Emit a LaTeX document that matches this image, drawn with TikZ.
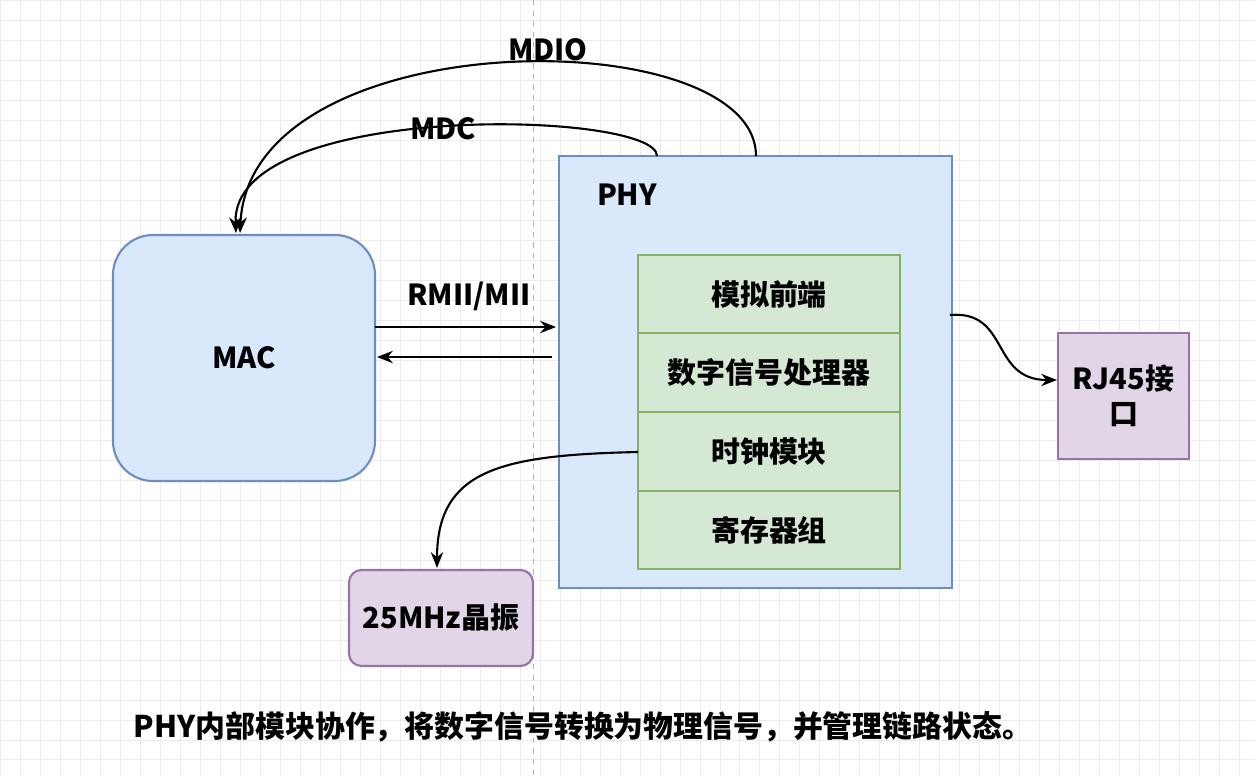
\documentclass[tikz,border=0pt]{standalone}
\usepackage{fontspec}
\setmainfont{Liberation Sans}
\newfontfamily\cjk{Noto Sans CJK SC}
\usetikzlibrary{arrows.meta}
\definecolor{bluefill}{HTML}{DAE8FC}
\definecolor{blueline}{HTML}{6C8EBF}
\definecolor{greenfill}{HTML}{D5E8D4}
\definecolor{greenline}{HTML}{82B366}
\definecolor{purplefill}{HTML}{E1D5E7}
\definecolor{purpleline}{HTML}{9673A6}
\tikzset{
  blk/.style={draw=blueline,fill=bluefill,line width=1.2pt},
  grn/.style={draw=greenline,fill=greenfill,line width=1.2pt},
  prp/.style={draw=purpleline,fill=purplefill,line width=1.2pt},
  lbl/.style={font=\fontsize{16.5}{20}\selectfont\bfseries\cjk,align=center},
  conn/.style={-{Stealth[length=9pt,width=7pt]},line width=1.2pt}
}
\begin{document}
\begin{tikzpicture}[x=0.02cm,y=-0.02cm]

%%%%%%%%%%%%%%%%%%%%%%%%%%%%%%%%%%%%%%
\useasboundingbox[fill=white] (0,0) rectangle (1255,775);
\draw[black!8,step=0.4cm] (0,0) grid (1255,775);
\draw[black!30,dashed] (533,0) -- (533,775);

%%%%%%%%%%%%%%%%%%%%%%%%%%%%%%%%%%%%%%
\draw[blk,rounded corners=0.8cm] (113,235) rectangle node[lbl] (mac) {MAC} (375,481);
\draw[blk] (559,156) rectangle (952,588);
\node[lbl] (phy) at (627,195) {PHY};
\draw[grn] (638,255) rectangle node[lbl] (afe) {模拟前端} (900,333);
\draw[grn] (638,333) rectangle node[lbl] (dsp) {数字信号处理器} (900,412);
\draw[grn] (638,412) rectangle node[lbl] (clk) {时钟模块} (900,491);
\draw[grn] (638,491) rectangle node[lbl] (reg) {寄存器组} (900,569);
\draw[prp] (1058,333) rectangle node[lbl] (rj) {RJ45接\\口} (1189,459);
\draw[prp,rounded corners=0.25cm] (349,570) rectangle node[lbl] (osc) {25MHz晶振} (533,666);

%%%%%%%%%%%%%%%%%%%%%%%%%%%%%%%%%%%%%%
\coordinate (m1) at (375,327); \coordinate (p1) at (556,327);
\coordinate (p2) at (552,357); \coordinate (m2) at (377,357);
\coordinate (mdio) at (756,156); \coordinate (mdc) at (657,156);
\coordinate (ma) at (240,233); \coordinate (mb) at (236,233);
\coordinate (pr) at (950,315); \coordinate (rl) at (1057,380);
\coordinate (cl) at (638,452); \coordinate (ot) at (437,568);

\draw[conn] (mdio) .. controls (756,20) and (250,20) .. (ma);
\node[lbl] (mdiol) at (548,50) {MDIO};
\draw[conn] (mdc) .. controls (657,110) and (230,100) .. (mb);
\node[lbl] (mdcl) at (443,129) {MDC};
\draw[conn] (m1) -- (p1);
\draw[conn] (p2) -- (m2);
\node[lbl] (rmii) at (469,296) {RMII/MII};
\draw[conn] (pr) .. controls (1010,310) and (990,380) .. (rl);
\draw[conn] (cl) .. controls (500,455) and (437,470) .. (ot);

\node[lbl,font=\fontsize{17}{20}\selectfont\bfseries\cjk] (cap) at (583,727)
  {PHY内部模块协作，将数字信号转换为物理信号，并管理链路状态。};
\end{tikzpicture}
\end{document}
